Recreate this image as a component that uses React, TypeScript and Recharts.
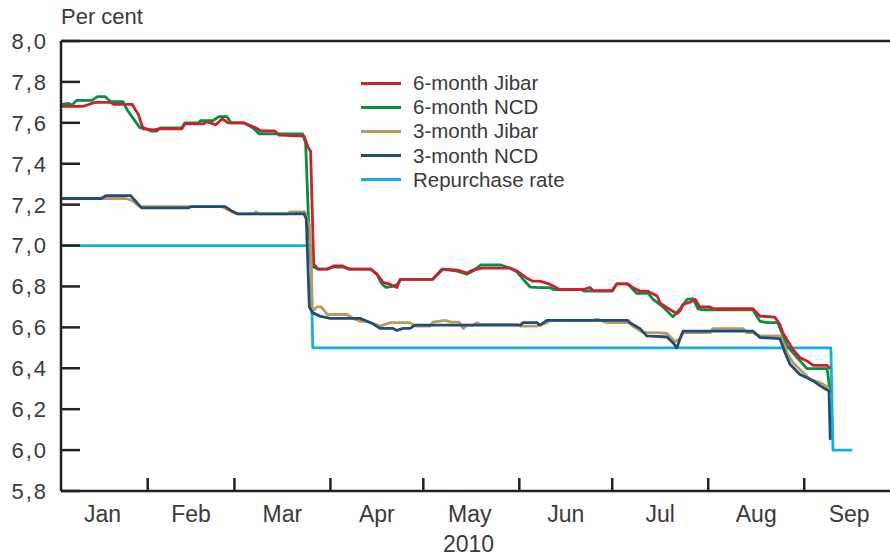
import React from 'react';
import { LineChart, Line, XAxis, YAxis, ReferenceLine } from 'recharts';

const FONT = '"Liberation Sans", Arial, Helvetica, sans-serif';
const INK = '#222222';
const TEXT = '#3a3a3a';

// day of year 2010 (Jan 1 = 1), rate in per cent
const jibar6m: [number, number][] = [
  [4, 7.68], [11, 7.68], [15, 7.70], [20, 7.70], [21, 7.69], [27, 7.69], [29, 7.64], [30.5, 7.57],
  [34, 7.565], [35.5, 7.57], [43, 7.57], [44, 7.595], [50, 7.595], [51, 7.605], [54, 7.59], [56, 7.62],
  [58, 7.60], [63, 7.60], [67, 7.575], [68.5, 7.56], [73, 7.56], [74.5, 7.54], [82.5, 7.535], [83.8, 7.48],
  [84.6, 7.46], [85.6, 6.91], [87, 6.885], [90, 6.885], [92, 6.90], [95, 6.90], [97, 6.885], [104, 6.885],
  [106, 6.86], [108, 6.82], [110.3, 6.81], [112.5, 6.795], [113.5, 6.835], [124, 6.835], [127.4, 6.885],
  [132, 6.88], [135, 6.865], [137, 6.88], [140, 6.89], [149, 6.89], [151.3, 6.875], [154.5, 6.84],
  [156.4, 6.826], [158.7, 6.826], [162, 6.81], [165, 6.785], [172.6, 6.785], [174.8, 6.795], [175.8, 6.78],
  [182, 6.78], [183.5, 6.813], [187, 6.813], [188.7, 6.794], [191, 6.777], [193.6, 6.777], [194.2, 6.77],
  [196.5, 6.753], [197.4, 6.72], [199.7, 6.696], [202.9, 6.667], [203.9, 6.68], [204.9, 6.712],
  [207.1, 6.723], [208.8, 6.737], [210.3, 6.70], [213.6, 6.70], [214.5, 6.691], [227.4, 6.691],
  [229.7, 6.655], [234.5, 6.65], [236.1, 6.615], [237.1, 6.574], [238.4, 6.541], [240, 6.50],
  [242.6, 6.452], [244.9, 6.436], [246.9, 6.414], [251.4, 6.414], [252.4, 6.398],
];

const ncd6m: [number, number][] = [
  [4, 7.69], [6.5, 7.695], [7.5, 7.685], [9, 7.71], [14, 7.71], [15.8, 7.728], [18.2, 7.728], [20, 7.704],
  [24, 7.704], [25.5, 7.66], [29.5, 7.575], [31, 7.575], [33, 7.56], [35, 7.56], [36, 7.575], [43, 7.575],
  [44, 7.60], [48.5, 7.60], [49, 7.61], [53, 7.61], [55, 7.63], [57.5, 7.63], [59, 7.60], [63, 7.60],
  [66, 7.575], [68, 7.546], [82, 7.546], [83, 7.50], [84, 7.10], [84.8, 6.90], [87, 6.885], [90, 6.885],
  [92, 6.895], [95, 6.895], [97, 6.885], [104, 6.885], [106, 6.86], [107.5, 6.815], [109, 6.795],
  [111, 6.80], [112.5, 6.81], [113.8, 6.835], [124, 6.835], [127, 6.885], [132, 6.875], [135, 6.86],
  [137, 6.875], [139.5, 6.905], [146, 6.905], [149, 6.89], [151.3, 6.87], [153.5, 6.83], [155.5, 6.797],
  [158.7, 6.794], [162, 6.794], [163, 6.785], [172, 6.785], [173, 6.777], [182, 6.777], [183.5, 6.813],
  [187, 6.813], [189, 6.78], [190, 6.766], [193.6, 6.766], [195.2, 6.737], [198.4, 6.70], [201.6, 6.652],
  [203.9, 6.69], [206.2, 6.737], [208.1, 6.74], [209.7, 6.69], [211.3, 6.686], [227.4, 6.686],
  [229.7, 6.63], [231.9, 6.623], [235.5, 6.623], [238.4, 6.51], [241.7, 6.452], [244.9, 6.398],
  [251.4, 6.398], [252.4, 6.281],
];

const jibar3m: [number, number][] = [
  [4, 7.23], [25, 7.23], [27, 7.22], [29.5, 7.19], [56, 7.19], [58, 7.175], [60.5, 7.155], [66, 7.155],
  [67, 7.165], [68, 7.155], [77, 7.155], [78, 7.165], [82.8, 7.165], [83.8, 7.11], [84.4, 7.10],
  [85.2, 6.68], [86.6, 6.70], [88, 6.70], [90, 6.663], [96.4, 6.663], [98.3, 6.644], [100.6, 6.63],
  [102.8, 6.63], [107, 6.606], [110.3, 6.623], [116.7, 6.623], [118.5, 6.606], [123.2, 6.606],
  [124.1, 6.626], [128, 6.634], [130, 6.626], [132.5, 6.626], [133.9, 6.595], [135.1, 6.611],
  [137.1, 6.611], [138.4, 6.623], [139.3, 6.615], [151.3, 6.615], [152.3, 6.606], [157.7, 6.606],
  [160.9, 6.623], [161.9, 6.634], [175.8, 6.634], [177.1, 6.64], [180.3, 6.623], [187.1, 6.623],
  [188.7, 6.606], [191.9, 6.574], [196.5, 6.574], [199.7, 6.57], [202.3, 6.53], [203.9, 6.545],
  [204.9, 6.574], [213.6, 6.574], [214.5, 6.594], [224.2, 6.594], [225.5, 6.574], [227.4, 6.574],
  [229.7, 6.558], [236.1, 6.558], [237.8, 6.51], [238.4, 6.476], [240.4, 6.427], [243.6, 6.379],
  [245.9, 6.346], [249.2, 6.33], [251.4, 6.31], [252.4, 6.285],
];

const ncd3m: [number, number][] = [
  [4, 7.23], [17, 7.23], [18.5, 7.244], [26.5, 7.244], [28.5, 7.21], [30, 7.184], [45, 7.184], [46, 7.19],
  [57, 7.19], [59, 7.17], [61, 7.155], [82.5, 7.155], [83.2, 7.13], [84.2, 6.70], [85.2, 6.672],
  [87.6, 6.655], [90.9, 6.644], [100.6, 6.644], [102.8, 6.63], [105, 6.615], [107, 6.595], [111.2, 6.595],
  [112.5, 6.585], [114.5, 6.595], [116.7, 6.595], [118.3, 6.611], [152.3, 6.611], [153.2, 6.623],
  [157.7, 6.623], [158.7, 6.611], [160.9, 6.634], [187.1, 6.634], [187.7, 6.623], [191, 6.594],
  [193.2, 6.558], [199.7, 6.553], [201.6, 6.525], [202.9, 6.50], [203.9, 6.545], [204.9, 6.582],
  [227.4, 6.582], [229.7, 6.55], [236.1, 6.545], [237.8, 6.476], [239.4, 6.42], [242.6, 6.37],
  [244.9, 6.354], [246.9, 6.338], [249.2, 6.314], [251.4, 6.294], [252, 6.29], [252.4, 6.05],
];

const repoRate: [number, number][] = [
  [4, 7.0], [84.6, 7.0], [85.3, 6.5], [252.6, 6.5], [253.3, 6.0], [259.5, 6.0],
];

const monthStarts = [32, 60, 91, 121, 152, 182, 213, 244];
const monthMids = [17.4, 46, 75.5, 106, 136, 167, 197.5, 228.5, 258.5];
const monthNames = ['Jan', 'Feb', 'Mar', 'Apr', 'May', 'Jun', 'Jul', 'Aug', 'Sep'];
const yTicks = [5.8, 6.0, 6.2, 6.4, 6.6, 6.8, 7.0, 7.2, 7.4, 7.6, 7.8, 8.0];

const series = [
  { key: 'j6', name: '6-month Jibar', color: '#d01f2b', points: jibar6m },
  { key: 'n6', name: '6-month NCD', color: '#00923f', points: ncd6m },
  { key: 'j3', name: '3-month Jibar', color: '#bb9a5c', points: jibar3m },
  { key: 'n3', name: '3-month NCD', color: '#1e4d7b', points: ncd3m },
  { key: 'repo', name: 'Repurchase rate', color: '#12aee8', points: repoRate },
];

// drawing order: repo underneath, NCD under Jibar, 3-month NCD on top
const drawOrder = ['repo', 'n6', 'j6', 'j3', 'n3'];

const toRows = (pts: [number, number][]) => pts.map(([d, v]) => ({ d, v }));

const MonthTick = (props: any) => {
  const { x, y, payload } = props;
  const v = payload.value;
  if (monthStarts.includes(v)) {
    return <line x1={x} x2={x} y1={y} y2={y - 13} stroke={INK} strokeWidth={2.5} />;
  }
  const i = monthMids.indexOf(v);
  return (
    <text x={x} y={y + 31} textAnchor="middle" fill={TEXT} fontSize={23} fontFamily={FONT}>
      {monthNames[i]}
    </text>
  );
};

const ValueTick = (props: any) => {
  const { x, y, payload } = props;
  const label = payload.value.toFixed(1).replace('.', ',');
  return (
    <g>
      <line x1={x + 15} x2={x + 34} y1={y} y2={y} stroke={INK} strokeWidth={2.5} />
      <text
        x={x + 2}
        y={y}
        dy="0.36em"
        textAnchor="end"
        fill={TEXT}
        fontSize={22}
        letterSpacing={2}
        fontFamily={FONT}
      >
        {label}
      </text>
    </g>
  );
};

const App: React.FC = () => {
  return (
    <div style={{ position: 'absolute', left: 0, top: 0, width: 890, height: 556, background: '#fff' }}>
      <div
        style={{
          position: 'absolute', left: 61, top: 6, fontSize: 22, lineHeight: 1,
          fontFamily: FONT, color: TEXT,
        }}
      >
        Per cent
      </div>

      <LineChart width={890} height={556} margin={{ top: 41, right: 0, bottom: 0, left: 0 }}>
        <XAxis
          dataKey="d"
          type="number"
          domain={[4, 271.7]}
          allowDataOverflow
          ticks={[...monthStarts, ...monthMids].sort((a, b) => a - b)}
          interval={0}
          tickLine={false}
          tickSize={0}
          tickMargin={0}
          tick={MonthTick}
          axisLine={{ stroke: INK, strokeWidth: 2.5 }}
          height={65}
          label={{
            value: '2010', position: 'insideBottom', offset: 4, dx: -7,
            fill: TEXT, fontSize: 23, fontFamily: FONT,
          }}
        />
        <YAxis
          type="number"
          domain={[5.8, 8.0]}
          allowDataOverflow
          ticks={yTicks}
          interval={0}
          width={61}
          tickLine={false}
          tickSize={0}
          tickMargin={15}
          tick={ValueTick}
          axisLine={{ stroke: INK, strokeWidth: 2.5 }}
        />
        <ReferenceLine y={8.0} stroke={INK} strokeWidth={2.5} />
        {drawOrder.map((k) => {
          const s = series.find((x) => x.key === k)!;
          return (
            <Line
              key={s.key}
              data={toRows(s.points)}
              dataKey="v"
              name={s.name}
              type="linear"
              stroke={s.color}
              strokeWidth={2.8}
              strokeLinejoin="round"
              dot={false}
              activeDot={false}
              isAnimationActive={false}
            />
          );
        })}
      </LineChart>

      <div style={{ position: 'absolute', left: 361, top: 71, fontFamily: FONT, color: TEXT }}>
        {series.map((s) => (
          <div key={s.key} style={{ display: 'flex', alignItems: 'center', height: 24.2 }}>
            <div style={{ width: 40, height: 3, background: s.color, marginRight: 12 }} />
            <span style={{ fontSize: 20.5, lineHeight: '24px' }}>{s.name}</span>
          </div>
        ))}
      </div>
    </div>
  );
};

export default App;
